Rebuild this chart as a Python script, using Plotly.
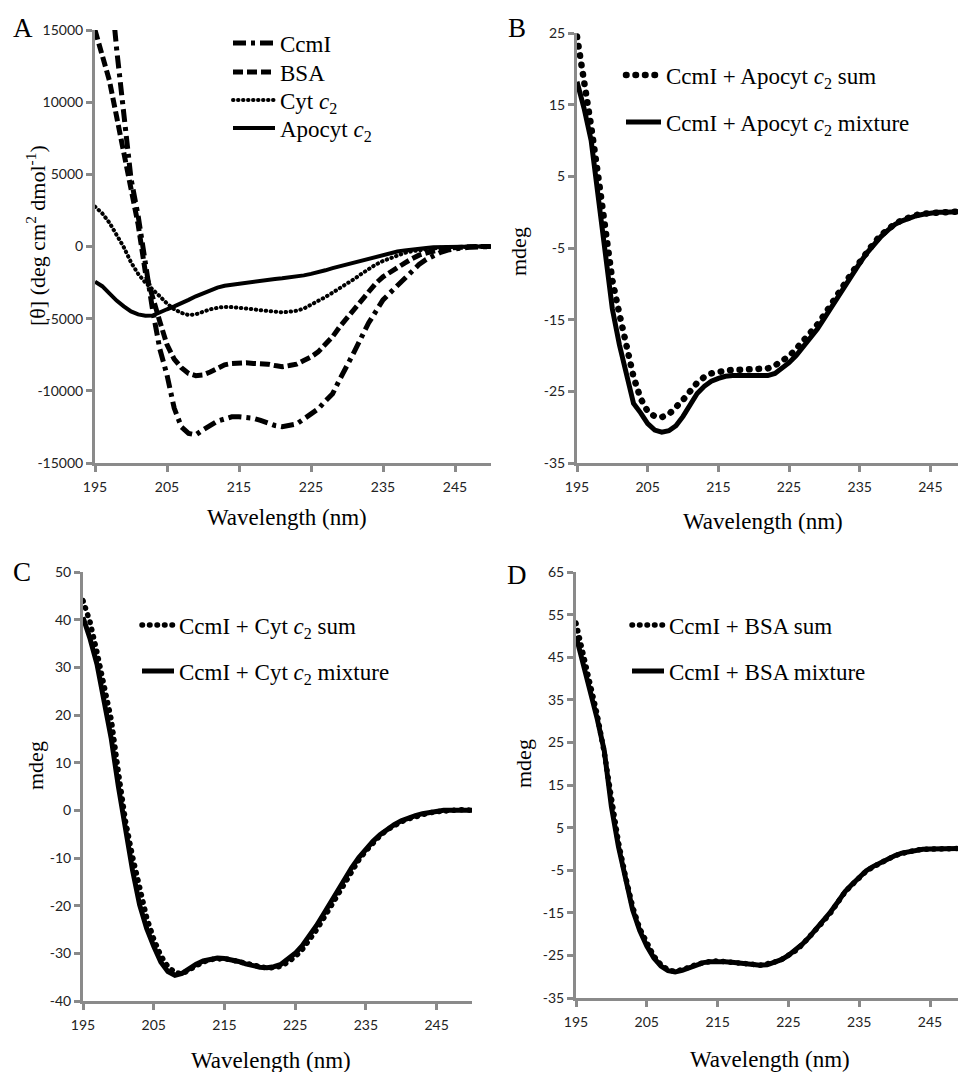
import plotly.graph_objects as go

W, H = 958, 1072

wavelength = list(range(195, 251))

# Panel A: mean residue ellipticity
ccmi = [30000, 24000, 19000, 13700, 8800, 4700, 2100, -1300, -4400, -7100,
        -8900, -11200, -12500, -12950, -13050, -12700, -12350, -12100, -11950, -11800,
        -11800, -11850, -11900, -12050, -12250, -12400, -12490, -12400, -12300, -11950,
        -11650, -11250, -10700, -10200, -9200, -8300, -7300, -6300, -5300, -4500,
        -3700, -3200, -2700, -2200, -1700, -1250, -900, -600, -400, -250,
        -150, -100, -50, -30, -10, 0]
bsa = [15000, 13200, 11500, 9000, 6600, 4000, 1500, -1800, -3600, -5200,
       -6800, -7800, -8400, -8800, -8950, -8900, -8700, -8400, -8200, -8100,
       -8050, -8050, -8100, -8100, -8150, -8250, -8330, -8250, -8150, -7900,
       -7650, -7300, -6800, -6250, -5550, -4950, -4250, -3650, -3100, -2550,
       -2100, -1750, -1450, -1150, -850, -600, -450, -300, -200, -120,
       -60, -30, -10, 0, 0, 0]
cyt_c2 = [2760, 2300, 1650, 850, -50, -1100, -1900, -2500, -2950, -3450,
          -3950, -4350, -4600, -4750, -4700, -4520, -4350, -4250, -4180, -4200,
          -4230, -4280, -4350, -4420, -4480, -4530, -4560, -4520, -4450, -4300,
          -4050, -3800, -3500, -3200, -2900, -2600, -2250, -1900, -1550, -1250,
          -1000, -800, -600, -450, -330, -250, -180, -120, -80, -50,
          -30, -20, -10, 0, 0, 0]
apocyt_c2 = [-2440, -2750, -3250, -3750, -4150, -4500, -4700, -4800, -4780, -4600,
             -4350, -4150, -3950, -3700, -3450, -3250, -3030, -2850, -2720, -2650,
             -2580, -2480, -2440, -2380, -2320, -2250, -2200, -2150, -2080, -2000,
             -1900, -1800, -1650, -1500, -1370, -1250, -1100, -950, -800, -680,
             -560, -450, -350, -270, -200, -150, -100, -60, -40, -20,
             0, 0, 0, 0, 0, 0]

# Panel B: CcmI + Apocyt c2 (mdeg)
b_sum = [24.5, 18.5, 12.0, 5.0, -2.5, -9.5, -14.2, -18.8, -23.0, -26.0,
         -27.8, -28.5, -28.6, -28.2, -27.3, -26.2, -25.0, -23.8, -23.0, -22.5,
         -22.3, -22.1, -22.0, -22.0, -22.0, -22.0, -22.0, -21.8, -21.4, -20.8,
         -20.1, -19.1, -18.0, -16.9, -15.7, -14.3, -12.9, -11.3, -9.8, -8.3,
         -6.9, -5.6, -4.3, -3.2, -2.3, -1.6, -1.1, -0.7, -0.4, -0.2,
         -0.1, 0.0, 0.1, 0.1, 0.1, 0.1]
b_mix = [18.2, 14.5, 10.0, 2.0, -6.5, -13.5, -18.5, -22.5, -26.7, -28.0,
         -29.5, -30.4, -30.7, -30.5, -29.8, -28.5, -27.0, -25.3, -24.3, -23.6,
         -23.2, -22.9, -22.8, -22.8, -22.9, -22.9, -22.9, -22.8, -22.5, -21.8,
         -21.0, -20.0, -18.8, -17.6, -16.3, -14.8, -13.2, -11.6, -10.0, -8.5,
         -7.1, -5.7, -4.5, -3.4, -2.5, -1.7, -1.2, -0.8, -0.5, -0.3,
         -0.1, 0.0, 0.0, 0.1, 0.1, 0.1]

# Panel C: CcmI + Cyt c2 (mdeg)
c_sum = [44.0, 39.5, 33.0, 26.5, 19.0, 8.0, -2.2, -9.7, -16.8, -22.5,
         -27.0, -30.5, -32.8, -34.0, -34.3, -33.5, -32.5, -31.8, -31.3, -31.1,
         -31.1, -31.4, -31.8, -32.2, -32.5, -32.9, -33.1, -33.0, -32.7, -31.8,
         -30.7, -29.2, -27.3, -25.1, -22.7, -20.2, -17.5, -15.0, -12.6, -10.4,
         -8.5, -6.8, -5.3, -4.1, -3.2, -2.4, -1.8, -1.3, -0.9, -0.5,
         -0.3, -0.1, 0.0, 0.1, 0.1, 0.0]
c_mix = [40.5, 36.0, 30.5, 23.0, 15.0, 5.0, -4.5, -12.5, -19.8, -24.8,
         -28.5, -31.8, -33.8, -34.6, -34.2, -33.2, -32.3, -31.6, -31.2, -31.0,
         -31.1, -31.3, -31.7, -32.2, -32.6, -32.9, -33.0, -32.8, -32.3, -31.3,
         -30.0, -28.4, -26.4, -24.2, -21.8, -19.3, -16.8, -14.3, -12.0, -9.9,
         -8.1, -6.5, -5.1, -3.9, -3.0, -2.2, -1.6, -1.1, -0.7, -0.4,
         -0.2, 0.0, 0.0, 0.0, 0.0, 0.0]

# Panel D: CcmI + BSA (mdeg)
d_sum = [53.0, 45.5, 38.9, 31.5, 22.5, 11.0, 1.5, -6.5, -13.6, -18.7,
         -22.3, -25.2, -27.2, -28.4, -28.8, -28.4, -27.8, -27.1, -26.6, -26.4,
         -26.3, -26.4, -26.5, -26.7, -26.9, -27.1, -27.3, -27.1, -26.6, -26.0,
         -25.0, -23.9, -22.4, -20.7, -18.8, -16.9, -14.9, -12.6, -10.1, -8.4,
         -6.6, -5.2, -4.2, -3.3, -2.4, -1.6, -1.1, -0.6, -0.3, -0.1,
         0.0, 0.1, 0.1, 0.1, 0.1, 0.1]
d_mix = [50.0, 43.5, 37.3, 30.5, 23.0, 9.9, 0.5, -7.5, -14.3, -19.2,
         -22.8, -25.6, -27.5, -28.6, -28.9, -28.5, -27.9, -27.2, -26.7, -26.5,
         -26.4, -26.5, -26.6, -26.8, -27.0, -27.2, -27.3, -27.2, -26.7, -26.0,
         -25.0, -23.8, -22.3, -20.6, -18.7, -16.8, -14.7, -12.4, -10.0, -8.3,
         -6.5, -5.1, -4.1, -3.2, -2.3, -1.6, -1.0, -0.6, -0.3, -0.1,
         0.0, 0.0, 0.1, 0.1, 0.1, 0.1]

x_ticks = [195, 205, 215, 225, 235, 245]
x_ticktext = ["195", "205", "215", "225", "235", "245"]
a_yticks = [-15000, -10000, -5000, 0, 5000, 10000, 15000]
a_yticktext = ["-15000", "-10000", "-5000", "0", "5000", "10000", "15000"]
b_yticks = [-35, -25, -15, -5, 5, 15, 25]
b_yticktext = ["-35", "-25", "-15", "-5", "5", "15", "25"]
c_yticks = [-40, -30, -20, -10, 0, 10, 20, 30, 40, 50]
c_yticktext = ["-40", "-30", "-20", "-10", "0", "10", "20", "30", "40", "50"]
d_yticks = [-35, -25, -15, -5, 5, 15, 25, 35, 45, 55, 65]
d_yticktext = ["-35", "-25", "-15", "-5", "5", "15", "25", "35", "45", "55", "65"]

SERIF = "Liberation Serif"
SANS = "Lato"
AXC = "#8a8a8a"


def px_x(p):
    return p / W


def px_y(p):
    return 1 - p / H


fig = go.Figure()

# (name, y values, axis suffix, legend id, dash, width)
traces = [
    ("CcmI", ccmi, "", "legend", "13px,5px,4px,5px", 5),
    ("BSA", bsa, "", "legend2", "10px,4px", 5),
    ("Cyt <i>c</i><sub>2</sub>", cyt_c2, "", "legend3", "0.5px,4.5px", 4),
    ("Apocyt <i>c</i><sub>2</sub>", apocyt_c2, "", "legend4", "solid", 4),
    ("CcmI + Apocyt <i>c</i><sub>2</sub> sum", b_sum, "2", "legend5", "0.5px,9px", 6.5),
    ("CcmI + Apocyt <i>c</i><sub>2</sub> mixture", b_mix, "2", "legend6", "solid", 5),
    ("CcmI + Cyt <i>c</i><sub>2</sub> sum", c_sum, "3", "legend7", "0.5px,7px", 5.5),
    ("CcmI + Cyt <i>c</i><sub>2</sub> mixture", c_mix, "3", "legend8", "solid", 5),
    ("CcmI + BSA sum", d_sum, "4", "legend9", "0.5px,7px", 5.5),
    ("CcmI + BSA mixture", d_mix, "4", "legend10", "solid", 5),
]
for name, ys, ax, leg, dash, w in traces:
    fig.add_trace(go.Scatter(
        x=wavelength, y=ys, name=name, mode="lines",
        line=dict(color="black", width=w, dash=dash),
        xaxis="x" + ax, yaxis="y" + ax, legend=leg, showlegend=True,
    ))

# legend placement: (legend id, left px, center y px, itemwidth)
legend_pos = [
    ("legend", 228, 43, 42), ("legend2", 228, 72, 42),
    ("legend3", 228, 100, 42), ("legend4", 228, 128, 42),
    ("legend5", 621, 75, 35), ("legend6", 621, 122, 35),
    ("legend7", 137, 625, 32), ("legend8", 137, 671, 32),
    ("legend9", 627, 625, 32), ("legend10", 627, 671, 32),
]
layout_legends = {}
for lid, lx, ly, iw in legend_pos:
    layout_legends[lid] = dict(
        x=px_x(lx), y=px_y(ly), xanchor="left", yanchor="middle",
        xref="paper", yref="paper", bgcolor="rgba(0,0,0,0)", borderwidth=0,
        font=dict(family=SERIF, size=23, color="black"), itemwidth=iw,
    )


def xaxis_cfg(x0, x1, rng, anchor):
    return dict(domain=[px_x(x0), px_x(x1)], range=rng, anchor=anchor, automargin=False,
                showline=True, linecolor=AXC, linewidth=3, ticks="outside",
                ticklen=6, tickwidth=3, tickcolor=AXC, showgrid=False, zeroline=False,
                tickvals=x_ticks, ticktext=x_ticktext, ticklabelstandoff=3,
                tickfont=dict(family=SANS, size=14, color="#222222"))


def yaxis_cfg(y0, y1, rng, anchor, tv, tt):
    return dict(domain=[px_y(y1), px_y(y0)], range=rng, anchor=anchor, automargin=False,
                showline=True, linecolor=AXC, linewidth=3, ticks="outside",
                ticklen=6, tickwidth=3, tickcolor=AXC, showgrid=False, zeroline=False,
                tickvals=tv, ticktext=tt, ticklabelstandoff=0,
                tickfont=dict(family=SANS, size=14, color="#222222"))


fig.update_layout(
    template="none",
    width=W, height=H, margin=dict(l=0, r=0, t=0, b=0, pad=0, autoexpand=False),
    paper_bgcolor="white", plot_bgcolor="white",
    xaxis=xaxis_cfg(95, 491, [195, 250], "y"),
    yaxis=yaxis_cfg(30, 463, [-15000, 15000], "x", a_yticks, a_yticktext),
    xaxis2=xaxis_cfg(577, 958, [195, 248.9], "y2"),
    yaxis2=yaxis_cfg(33, 463, [-35, 25], "x2", b_yticks, b_yticktext),
    xaxis3=xaxis_cfg(83, 472, [195, 250], "y3"),
    yaxis3=yaxis_cfg(572, 1001, [-40, 50], "x3", c_yticks, c_yticktext),
    xaxis4=xaxis_cfg(576, 958, [195, 248.95], "y4"),
    yaxis4=yaxis_cfg(572, 998, [-35, 65], "x4", d_yticks, d_yticktext),
    **layout_legends,
)

annotations = [
    ("A", 23, 28, 27, 0), ("B", 517, 28, 27, 0), ("C", 22, 572, 27, 0), ("D", 517, 575, 27, 0),
    ("[θ] (deg cm<sup>2</sup> dmol<sup>-1</sup>)", 36, 236, 22, -90),
    ("mdeg", 519, 252, 22, -90), ("mdeg", 35, 766, 22, -90), ("mdeg", 523, 764, 22, -90),
    ("Wavelength (nm)", 287, 518, 23, 0), ("Wavelength (nm)", 763, 521, 23, 0),
    ("Wavelength (nm)", 271, 1060, 23, 0), ("Wavelength (nm)", 770, 1059, 23, 0),
]
for text, ax_, ay_, size, ang in annotations:
    fig.add_annotation(text=text, x=px_x(ax_), y=px_y(ay_), xref="paper", yref="paper",
                       xanchor="center", yanchor="middle", showarrow=False, textangle=ang,
                       font=dict(family=SERIF, size=size, color="black"))

# Page without the default body margin, and round line caps for the dotted
# series so that their dots look round, as in the original
POST_JS = """
document.body.style.margin = '0';
document.querySelectorAll('path.js-line').forEach(function(p){
  var da = p.style.strokeDasharray || p.getAttribute('stroke-dasharray') || '';
  if (da && parseFloat(da) < 1) { p.style.strokeLinecap = 'round'; }
});
"""

fig.write_html("out.html", post_script=POST_JS, config={"displayModeBar": False})
